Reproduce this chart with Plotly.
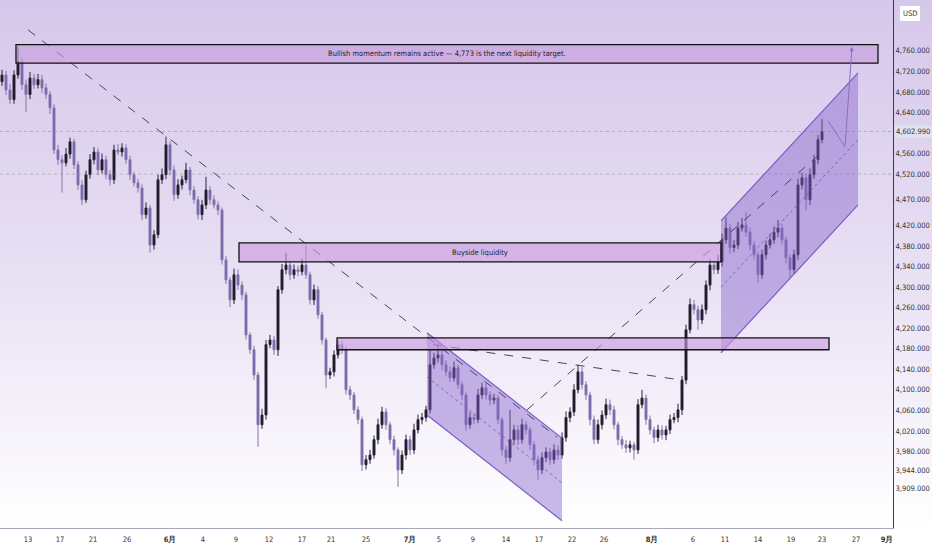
import base64
import plotly.graph_objects as go

# closes, one candle every ~4px
closes = [4713, 4684, 4665, 4713, 4739, 4694, 4675, 4707, 4694, 4704,
          4688, 4675, 4649, 4567, 4548, 4542, 4559, 4583, 4538, 4499,
          4470, 4519, 4548, 4563, 4528, 4548, 4519, 4509, 4567, 4563,
          4571, 4548, 4519, 4503, 4493, 4441, 4454, 4382, 4402, 4509,
          4519, 4577, 4528, 4480, 4499, 4509, 4528, 4489, 4470, 4441,
          4460, 4489, 4470, 4460, 4450, 4353, 4314, 4275, 4324, 4304,
          4285, 4207, 4178, 4129, 4032, 4051, 4188, 4197, 4178, 4295,
          4334, 4343, 4324, 4334, 4330, 4343, 4324, 4275, 4295, 4246,
          4197, 4129, 4135, 4168, 4188, 4178, 4100, 4090, 4061, 4042,
          3954, 3964, 3973, 4003, 4032, 4057, 4032, 4003, 3983, 3944,
          3973, 4003, 3983, 4022, 4042, 4046, 4061, 4149, 4162, 4168,
          4149, 4135, 4123, 4143, 4110, 4090, 4032, 4046, 4042, 4090,
          4104, 4090, 4080, 4084, 4042, 3983, 3968, 4003, 4022, 4003,
          4032, 4022, 3993, 3964, 3944, 3968, 3979, 3964, 3983, 3973,
          4007, 4046, 4057, 4100, 4135, 4110, 4090, 4042, 4003, 4032,
          4051, 4071, 4061, 4032, 4003, 3993, 3987, 3993, 3983, 4071,
          4084, 4042, 4022, 4007, 4022, 4012, 4022, 4042, 4046, 4061,
          4119, 4217, 4266, 4256, 4236, 4256, 4304, 4343, 4334, 4349,
          4392, 4415, 4377, 4382, 4415, 4421, 4407, 4382, 4363, 4324,
          4363, 4382, 4392, 4407, 4415, 4392, 4357, 4334, 4363, 4499,
          4513, 4470, 4519, 4548, 4587, 4603]
first_open = 4700

upper_wick = [10, 8, 12, 9, 29, 7, 10, 12, 8, 11,
              9, 8, 6, 7, 10, 9, 12, 8, 6, 7,
              9, 8, 11, 10, 7, 12, 8, 9, 10, 12,
              9, 7, 8, 6, 8, 7, 11, 6, 9, 10,
              12, 16, 7, 9, 11, 8, 14, 6, 8, 7,
              10, 26, 8, 9, 7, 5, 8, 6, 12, 10,
              7, 6, 5, 8, 6, 12, 9, 10, 8, 7,
              11, 24, 9, 10, 8, 12, 39, 6, 10, 7,
              6, 5, 8, 9, 9, 7, 6, 8, 6, 7,
              6, 9, 10, 8, 12, 10, 7, 6, 8, 5,
              9, 10, 8, 12, 10, 9, 8, 29, 10, 23,
              8, 9, 11, 12, 6, 7, 5, 10, 8, 12,
              10, 9, 7, 8, 6, 5, 8, 58, 10, 9,
              12, 8, 6, 7, 8, 10, 9, 8, 11, 9,
              10, 12, 9, 11, 14, 10, 7, 6, 8, 10,
              9, 12, 10, 8, 6, 7, 9, 8, 6, 11,
              16, 7, 8, 6, 10, 9, 8, 10, 9, 12,
              8, 10, 12, 9, 8, 10, 9, 11, 8, 14,
              12, 21, 8, 10, 12, 14, 25, 9, 7, 6,
              10, 9, 12, 11, 16, 8, 6, 7, 10, 12,
              10, 8, 12, 10, 9, 24]
lower_wick = [8, 10, 9, 8, 7, 10, 34, 9, 8, 7,
              10, 9, 12, 8, 10, 58, 7, 9, 8, 10,
              10, 6, 8, 9, 10, 7, 9, 11, 8, 6,
              9, 8, 10, 7, 9, 11, 8, 15, 9, 7,
              8, 9, 10, 12, 8, 9, 7, 10, 8, 9,
              10, 8, 9, 7, 10, 9, 8, 14, 8, 9,
              10, 9, 8, 10, 43, 8, 9, 7, 10, 12,
              8, 9, 10, 8, 9, 7, 8, 9, 10, 8,
              9, 26, 8, 9, 7, 8, 9, 10, 8, 9,
              12, 9, 8, 7, 9, 8, 10, 9, 11, 33,
              8, 9, 10, 8, 7, 9, 8, 7, 8, 9,
              10, 9, 8, 7, 9, 10, 12, 8, 9, 7,
              8, 9, 10, 8, 9, 11, 12, 8, 9, 10,
              8, 9, 10, 11, 19, 8, 9, 10, 8, 9,
              7, 8, 9, 8, 7, 9, 10, 11, 9, 8,
              9, 8, 10, 9, 11, 8, 10, 9, 19, 8,
              7, 10, 9, 11, 8, 9, 10, 8, 7, 9,
              10, 8, 7, 9, 19, 8, 9, 10, 9, 8,
              9, 8, 12, 9, 8, 7, 9, 10, 9, 16,
              8, 9, 7, 8, 10, 9, 11, 16, 8, 10,
              9, 20, 10, 8, 9, 7]

# x-axis labels (bar index where each label sits)
tick_pos = [6.5, 14.5, 22.75, 31.25, 42, 50.25, 58.5, 66.75, 75, 82.25, 91,
            102, 109.25, 117.75, 126, 134.25, 142.5, 150.5, 162.5, 172.75,
            180.75, 189, 197.25, 205, 213.5, 221.25]
tick_text = ["13", "17", "21", "26", "6月", "4", "9", "12", "17", "21", "25",
             "7月", "5", "9", "14", "17", "22", "26", "8月", "6", "11", "14",
             "19", "23", "27", "9月"]

price_ticks = [4760, 4720, 4680, 4640, 4560, 4520, 4470, 4420, 4380, 4340,
               4300, 4260, 4220, 4180, 4140, 4100, 4060, 4020, 3980, 3944, 3909]
last_price = 4602.99
level_line = 4520

# drawings
zone_start = [3.5, 59.25, 83.75]
zone_end = [219, 179.75, 206.75]
zone_low = [4736, 4349, 4178]
zone_high = [4772, 4386, 4201]
zone_text = ["Bullish momentum remains active — 4,773 is the next liquidity target.",
             "Buyside liquidity", ""]

desc_channel = [(106.25, 4211), (140, 4006), (140, 3845), (106.25, 4051)]
desc_mid = [(106.25, 4125), (140, 3919)]
asc_channel = [(179.75, 4429), (214, 4717), (214, 4460), (179.75, 4172)]
asc_mid = [(179.75, 4300), (214, 4587)]

trend_lines = [[(6.5, 4801), (138.75, 4008)],
               [(107.75, 4188), (170, 4119)],
               [(131.25, 4061), (203.75, 4554)]]
projection = [(206.5, 4624), (210.75, 4573), (212.5, 4768)]

n = len(closes)
opens = [first_open] + closes[:-1]
highs = [max(o, c) + u for o, c, u in zip(opens, closes, upper_wick)]
lows = [min(o, c) - d for o, c, d in zip(opens, closes, lower_wick)]
idx = list(range(n))

FONT = "Liberation Sans Narrow, DejaVu Sans Condensed, Arial Narrow, sans-serif"
PURPLE = "#7b5cc6"

fig = go.Figure(go.Candlestick(
    x=idx, open=opens, high=highs, low=lows, close=closes,
    increasing=dict(line=dict(color="#2a2438", width=1), fillcolor="#15111f"),
    decreasing=dict(line=dict(color="#8677a8", width=1), fillcolor="#7658bd"),
    whiskerwidth=0, hoverinfo="skip",
))

shapes = []
for p in [last_price, level_line]:
    shapes.append(dict(type="line", xref="paper", yref="y", x0=0, x1=1, y0=p, y1=p,
                       line=dict(color="rgba(140,140,155,0.55)", width=1, dash="dot")))


def poly(pts):
    return "M " + " L ".join(f"{x},{y}" for x, y in pts) + " Z"


for ch, mid in [(desc_channel, desc_mid), (asc_channel, asc_mid)]:
    shapes.append(dict(type="path", xref="x", yref="y", path=poly(ch),
                       fillcolor="rgba(135,100,205,0.45)", line=dict(width=0), layer="above"))
    for a, b in [(ch[0], ch[1]), (ch[3], ch[2])]:
        shapes.append(dict(type="line", xref="x", yref="y", x0=a[0], y0=a[1], x1=b[0], y1=b[1],
                           line=dict(color=PURPLE, width=1.2)))
    shapes.append(dict(type="line", xref="x", yref="y", x0=mid[0][0], y0=mid[0][1],
                       x1=mid[1][0], y1=mid[1][1],
                       line=dict(color="rgba(110,90,160,0.8)", width=1, dash="dot")))

for a, b in trend_lines:
    shapes.append(dict(type="line", xref="x", yref="y", x0=a[0], y0=a[1], x1=b[0], y1=b[1],
                       line=dict(color="#4a4460", width=1, dash="dash")))

for x0, x1, lo, hi in zip(zone_start, zone_end, zone_low, zone_high):
    shapes.append(dict(type="rect", xref="x", yref="y", x0=x0, x1=x1, y0=lo, y1=hi,
                       fillcolor="rgba(200,155,222,0.62)", line=dict(color="#111111", width=1.3)))

shapes.append(dict(type="line", xref="x", yref="y", x0=projection[0][0], y0=projection[0][1],
                   x1=projection[1][0], y1=projection[1][1], line=dict(color="#8a6fc4", width=1)))

annotations = []
for x0, x1, lo, hi, t in zip(zone_start, zone_end, zone_low, zone_high, zone_text):
    if t:
        annotations.append(dict(x=(x0 + x1) / 2, y=(lo + hi) / 2, xref="x", yref="y", text=t,
                                showarrow=False, font=dict(family=FONT, size=7.5, color="#222")))
annotations.append(dict(x=projection[2][0], y=projection[2][1], ax=projection[1][0],
                        ay=projection[1][1], xref="x", yref="y", axref="x", ayref="y",
                        text="", showarrow=True, arrowhead=2, arrowsize=0.9, arrowwidth=1,
                        arrowcolor="#8a6fc4"))
annotations.append(dict(x=1, y=last_price, xref="paper", yref="y", xanchor="left", xshift=1,
                        text="4,602.990", showarrow=False, bgcolor="#dfe3ef", borderpad=1,
                        font=dict(family=FONT, size=7.5, color="#333")))
annotations.append(dict(x=1, y=1, xref="paper", yref="paper", xanchor="left", yanchor="top",
                        xshift=6, yshift=-5, text="USD", showarrow=False, bgcolor="white",
                        bordercolor="#d0d0d8", borderwidth=1, borderpad=3,
                        font=dict(family=FONT, size=7.5, color="#333")))

svg = ('<svg xmlns="http://www.w3.org/2000/svg" width="10" height="100" preserveAspectRatio="none">'
       '<defs><linearGradient id="g" x1="0" y1="0" x2="0" y2="1">'
       '<stop offset="0" stop-color="#d5c7ea"/><stop offset="0.5" stop-color="#e7dff3"/>'
       '<stop offset="1" stop-color="#ffffff"/></linearGradient></defs>'
       '<rect width="10" height="100" fill="url(#g)"/></svg>')
bg = "data:image/svg+xml;base64," + base64.b64encode(svg.encode()).decode()

fig.update_layout(
    width=932, height=550,
    margin=dict(l=0, r=39, t=0, b=22, autoexpand=False),
    paper_bgcolor="white", plot_bgcolor="rgba(0,0,0,0)",
    showlegend=False,
    font=dict(family=FONT, size=7.5, color="#333"),
    shapes=shapes, annotations=annotations,
    images=[dict(source=bg, xref="paper", yref="paper", x=0, y=1, sizex=932 / 893, sizey=1,
                 xanchor="left", yanchor="top", sizing="stretch", layer="below")],
    xaxis=dict(range=[-0.5, 222.75], rangeslider=dict(visible=False), showgrid=False,
               zeroline=False, tickmode="array", tickvals=tick_pos,
               ticktext=[f"<b>{t}</b>" if "月" in t else t for t in tick_text],
               ticks="", showline=True, linecolor="#a8a8b8", linewidth=1, automargin=False,
               ticklabelstandoff=4,
               tickfont=dict(family=FONT, size=7.5, color="#333")),
    yaxis=dict(side="right", range=[3831, 4859], showgrid=False, zeroline=False,
               tickmode="array", tickvals=price_ticks, automargin=False,
               ticktext=[f"{v:,.3f}" for v in price_ticks], ticks="",
               showline=True, linecolor="#3a3a4a", linewidth=1,
               tickfont=dict(family=FONT, size=7.5, color="#333")),
)

fig.write_html("out.html", config={"displayModeBar": False},
               post_script="document.body.style.margin='0';")
